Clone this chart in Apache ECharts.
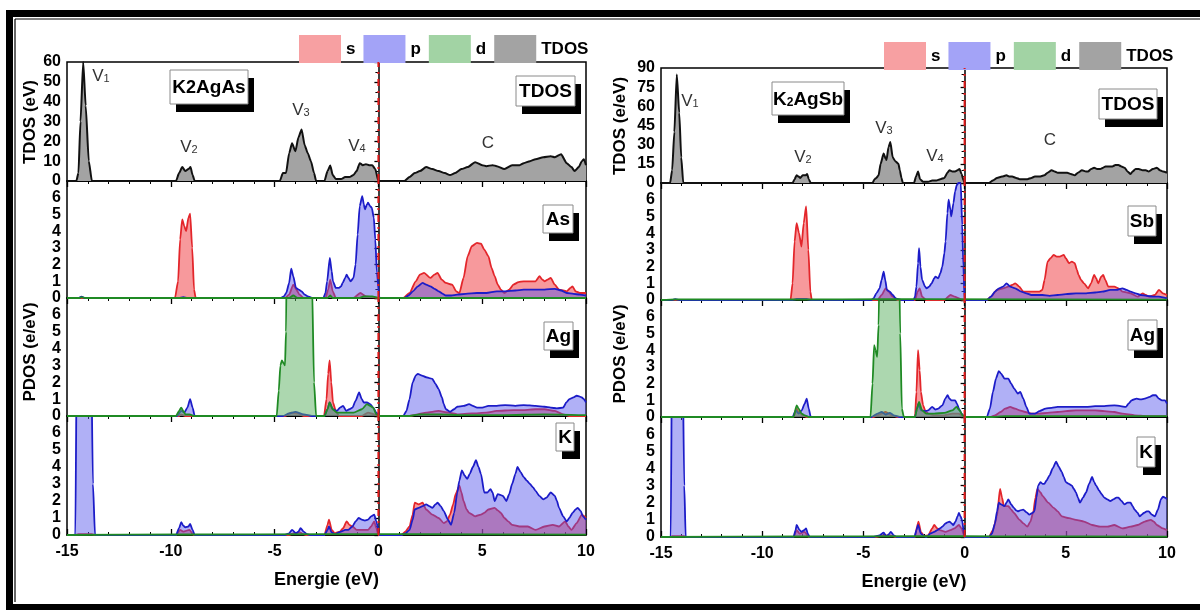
<!DOCTYPE html>
<html><head><meta charset="utf-8">
<script src="https://cdn.jsdelivr.net/npm/echarts@6/dist/echarts.min.js"></script>
<style>html,body{margin:0;padding:0;background:#fff}#c{width:1200px;height:610px}</style>
</head><body><div id="c"></div>
<script>
// ---------------- DATA (energy eV, density) ----------------
const xTicks = [-15, -10, -5, 0, 5, 10];
const legendNames = ['s', 'p', 'd', 'TDOS'];
const fermiLevel = 0;

// K2AgAs
const LA_tdos = [[-15,0],[-14.55,0],[-14.45,4],[-14.35,30],[-14.22,60],[-14.1,38],[-13.95,10],[-13.8,0],
 [-9.75,0],[-9.6,4],[-9.45,7],[-9.3,5],[-9.15,6],[-9.05,7],[-8.95,3],[-8.85,0],
 [-4.75,0],[-4.6,4],[-4.45,4],[-4.3,14],[-4.16,19],[-4.0,15],[-3.85,22],[-3.7,26],[-3.55,18],[-3.4,14],[-3.25,10],[-3.1,4],[-3.0,0],
 [-2.6,0],[-2.45,5],[-2.32,7.8],[-2.2,3],[-2.05,1],[-1.8,1],[-1.6,2],[-1.4,2],[-1.2,3],[-1.05,5],[-0.9,9],[-0.75,8],[-0.6,8.5],[-0.45,8],[-0.3,8],[-0.15,6],[0,0],
 [1.25,0],[1.5,2],[1.75,4],[2.0,5],[2.3,7],[2.6,6],[2.9,5],[3.2,4],[3.45,3],[3.7,4],[4.0,6],[4.3,7],[4.66,9.5],[5.0,8],[5.2,7.5],[5.5,8],[5.7,7.5],[6.07,6],[6.44,8],[6.8,8],[7.0,9],[7.3,10],[7.57,11],[7.94,12],[8.3,12.5],[8.5,12],[8.8,13.5],[9.07,9],[9.3,7],[9.45,5],[9.65,7],[9.8,10],[9.9,11],[10,8]];

const LA_s = [[-15,0],[-9.8,0],[-9.65,1],[-9.55,3.5],[-9.45,4.7],[-9.35,4.3],[-9.26,4.0],[-9.15,4.8],[-9.07,5.05],[-8.97,3],[-8.88,0.5],[-8.8,0],
 [-4.5,0],[-4.3,0.2],[-4.1,0.8],[-3.95,0.5],[-3.8,0.2],[-3.6,0],
 [-2.55,0],[-2.42,0.5],[-2.32,1.1],[-2.2,0.4],[-2.05,0],
 [-1.2,0],[-0.87,0.3],[-0.6,0.1],[0,0],
 [1.2,0],[1.5,0.3],[1.8,1.0],[2.0,1.4],[2.2,1.5],[2.5,1.2],[2.7,1.4],[2.85,1.5],[3.05,1.1],[3.25,0.9],[3.55,0.8],[3.75,0.4],[3.9,0.3],[4.1,1.2],[4.3,2.5],[4.5,3.1],[4.75,3.3],[4.94,3.25],[5.1,2.9],[5.3,2.5],[5.45,1.8],[5.6,1.3],[5.75,0.8],[5.9,0.5],[6.07,0.3],[6.3,0.5],[6.5,0.8],[6.75,0.95],[7.0,1.0],[7.3,1.0],[7.57,1.0],[7.76,1.3],[7.9,1.1],[8.0,1.0],[8.15,1.1],[8.3,1.2],[8.5,0.8],[8.7,0.5],[9.07,0.4],[9.25,0.6],[9.35,0.7],[9.5,0.4],[9.7,0.3],[10,0.3]];

const LA_p = [[-15,0],[-14.45,0],[-14.3,0.08],[-14.15,0],[-9.6,0],[-9.4,0.05],[-9.2,0],
 [-4.72,0],[-4.55,0.1],[-4.44,0.3],[-4.3,0.9],[-4.2,1.75],[-4.1,1.3],[-3.97,0.6],[-3.84,0.5],[-3.7,0.4],[-3.55,0.2],[-3.4,0.1],[-3.2,0],
 [-2.65,0],[-2.55,0.3],[-2.47,1.0],[-2.34,2.4],[-2.25,1.6],[-2.19,1.0],[-2.05,0.6],[-1.9,0.6],[-1.8,0.7],[-1.72,0.9],[-1.6,1.2],[-1.53,1.4],[-1.44,1.2],[-1.34,1.0],[-1.2,1.2],[-1.1,2.0],[-1.0,3.8],[-0.9,5.5],[-0.78,6.1],[-0.7,5.6],[-0.65,5.3],[-0.55,5.6],[-0.5,5.7],[-0.4,5.5],[-0.32,5.4],[-0.22,4.8],[-0.15,3.5],[-0.07,1.5],[0.05,0],
 [1.25,0],[1.45,0.15],[1.66,0.4],[1.9,0.7],[2.13,0.9],[2.3,0.8],[2.5,0.7],[2.7,0.55],[2.9,0.4],[3.1,0.25],[3.25,0.15],[3.5,0.15],[3.8,0.2],[4.2,0.25],[4.75,0.3],[5.2,0.3],[5.7,0.4],[6.1,0.4],[6.6,0.45],[7.0,0.5],[7.57,0.5],[8.0,0.5],[8.5,0.55],[8.8,0.45],[9.07,0.3],[9.4,0.25],[9.7,0.2],[10,0.15]];

const LA_d = [[-15,0],[-14.4,0],[-14.3,0.05],[-14.1,0],[-4.3,0],[-4.1,0.15],[-3.9,0],[-2.45,0],[-2.32,0.15],[-2.2,0],[-0.9,0],[-0.7,0.1],[-0.3,0.1],[0,0],[10,0]];

const LG_s = [[-15,0],[-9.6,0],[-9.5,0.1],[-9.3,0],[-4.5,0],[-4.2,0.2],[-3.9,0.15],[-3.6,0],
 [-2.62,0],[-2.5,1.0],[-2.42,2.5],[-2.35,3.3],[-2.27,2.0],[-2.19,0.8],[-2.05,0.3],[-1.9,0],
 [-0.8,0],[-0.5,0.2],[-0.2,0.1],[0,0],
 [1.5,0],[1.9,0.1],[2.3,0.2],[2.9,0.3],[3.4,0.2],[3.8,0.1],[4.5,0.15],[5.2,0.2],[5.7,0.3],[6.5,0.35],[7.0,0.35],[7.57,0.4],[8.0,0.4],[8.5,0.3],[8.9,0.1],[9.2,0],[10,0]];

const LG_p = [[-15,0],[-9.7,0],[-9.5,0.3],[-9.35,0.2],[-9.2,0.5],[-9.07,1.0],[-8.95,0.5],[-8.85,0],
 [-4.6,0],[-4.3,0.15],[-4.0,0.25],[-3.6,0.1],[-3.2,0],
 [-2.6,0],[-2.45,0.4],[-2.35,0.8],[-2.2,0.4],[-2.0,0.3],[-1.85,0.5],[-1.7,0.6],[-1.55,0.3],[-1.4,0.4],[-1.25,0.5],[-1.1,0.9],[-0.93,1.4],[-0.8,1.0],[-0.7,0.8],[-0.55,0.8],[-0.4,0.7],[-0.25,0.5],[-0.1,0.2],[0.05,0],
 [1.2,0],[1.35,0.3],[1.5,1.0],[1.65,2.0],[1.8,2.4],[1.9,2.5],[2.1,2.4],[2.3,2.3],[2.45,2.25],[2.6,2.2],[2.75,1.9],[2.9,1.6],[3.06,1.1],[3.15,0.7],[3.25,0.4],[3.45,0.25],[3.65,0.4],[3.8,0.55],[4.1,0.6],[4.37,0.7],[4.55,0.6],[4.75,0.5],[5.0,0.5],[5.3,0.6],[5.7,0.6],[6.1,0.65],[6.6,0.6],[7.0,0.65],[7.57,0.6],[8.0,0.55],[8.3,0.5],[8.6,0.45],[8.9,0.5],[9.05,0.8],[9.2,1.0],[9.4,1.1],[9.55,1.2],[9.7,1.15],[9.8,1.1],[9.9,1.0],[10,0.8]];

const LG_d = [[-15,0],[-9.75,0],[-9.6,0.3],[-9.5,0.5],[-9.4,0.3],[-9.3,0.1],[-9.1,0.1],[-8.9,0],
 [-4.9,0],[-4.8,1.5],[-4.72,3.0],[-4.65,3.3],[-4.55,3.1],[-4.5,3.0],[-4.45,5],[-4.4,12],[-3.3,12],[-3.2,8],[-3.1,2],[-3.0,0],
 [-2.6,0],[-2.45,0.4],[-2.35,0.8],[-2.2,0.4],[-2.0,0.2],[-1.6,0.2],[-1.2,0.2],[-0.8,0.4],[-0.55,0.7],[-0.4,0.6],[-0.25,0.5],[-0.1,0.1],[0.05,0],
 [1.5,0],[2.0,0.1],[3.0,0.1],[4.0,0.05],[6.0,0.05],[8.0,0.1],[10,0.05]];

const LK_s = [[-15,0],[-14.6,0],[-14.45,0.05],[-13.8,0.05],[-13.65,0],
 [-9.75,0],[-9.55,0.3],[-9.4,0.2],[-9.1,0.3],[-8.9,0],
 [-4.3,0],[-4.1,0.1],[-3.8,0.15],[-3.5,0],
 [-2.6,0],[-2.45,0.6],[-2.38,0.9],[-2.25,0.3],[-2.1,0.1],[-1.85,0.2],[-1.7,0.4],[-1.53,0.8],[-1.4,0.6],[-1.25,0.5],[-1.05,0.3],[-0.87,0.3],[-0.65,0.3],[-0.5,0.3],[-0.35,0.5],[-0.2,0.8],[-0.1,0.4],[0,0],
 [1.1,0],[1.3,0.2],[1.5,0.5],[1.65,1.2],[1.75,1.9],[1.94,1.8],[2.13,1.9],[2.3,1.5],[2.6,1.2],[2.9,1.0],[3.15,0.7],[3.3,0.8],[3.45,1.2],[3.6,1.8],[3.72,2.4],[3.9,2.9],[4.0,2.5],[4.1,2.0],[4.25,1.5],[4.37,1.3],[4.66,1.1],[4.94,1.2],[5.1,1.3],[5.3,1.5],[5.6,1.6],[5.75,1.45],[5.9,1.3],[6.07,1.0],[6.25,0.8],[6.44,0.6],[6.8,0.5],[7.2,0.5],[7.57,0.3],[8.0,0.5],[8.4,0.6],[8.7,0.5],[9.0,0.8],[9.15,0.5],[9.3,0.3],[9.55,0.7],[9.8,1.2],[10,1.0]];

const LK_p = [[-15,0],[-14.6,0],[-14.52,12],[-13.85,12],[-13.75,3],[-13.65,0],
 [-9.75,0],[-9.6,0.4],[-9.5,0.75],[-9.4,0.55],[-9.3,0.45],[-9.15,0.5],[-9.07,0.65],[-8.95,0.3],[-8.85,0],
 [-4.5,0],[-4.3,0.1],[-4.16,0.3],[-3.97,0.1],[-3.85,0.2],[-3.75,0.4],[-3.6,0.2],[-3.45,0.05],[-3.3,0],
 [-2.6,0],[-2.45,0.3],[-2.38,0.5],[-2.25,0.15],[-2.1,0.05],[-1.8,0.2],[-1.6,0.3],[-1.45,0.3],[-1.25,0.5],[-1.1,0.8],[-0.95,1.0],[-0.8,0.9],[-0.65,0.85],[-0.5,0.9],[-0.35,1.1],[-0.2,1.2],[-0.1,0.8],[0.05,0],
 [1.1,0],[1.3,0.1],[1.5,0.3],[1.65,0.9],[1.75,1.5],[1.94,1.6],[2.13,1.7],[2.3,1.8],[2.45,1.7],[2.6,1.6],[2.75,1.8],[2.85,1.9],[3.0,1.7],[3.15,1.4],[3.35,0.9],[3.5,0.6],[3.65,1.3],[3.8,2.5],[3.9,3.2],[4.02,3.8],[4.15,3.5],[4.28,3.3],[4.4,3.6],[4.55,4.0],[4.7,4.4],[4.82,4.0],[4.94,3.6],[5.1,2.5],[5.25,2.5],[5.4,2.7],[5.5,2.5],[5.6,2.0],[5.75,2.4],[5.9,2.35],[6.0,2.3],[6.16,2.0],[6.3,2.4],[6.44,3.0],[6.6,3.6],[6.7,4.0],[6.85,3.7],[7.0,3.4],[7.15,3.2],[7.3,3.0],[7.45,2.8],[7.57,2.6],[7.75,2.3],[7.94,2.1],[8.1,2.2],[8.3,2.5],[8.5,2.3],[8.6,2.0],[8.7,1.6],[8.9,1.1],[9.07,0.8],[9.2,1.0],[9.35,1.3],[9.5,1.5],[9.6,1.6],[9.75,1.4],[9.85,1.1],[10,0.9]];

const LK_d = [[-15,0],[-9.5,0.03],[-2.3,0.05],[2,0.05],[10,0.02]];

// K2AgSb
const RA_tdos = [[-15,0],[-14.55,0],[-14.45,10],[-14.34,40],[-14.22,85],[-14.1,55],[-14.0,20],[-13.9,0],
 [-8.5,0],[-8.4,3],[-8.3,6],[-8.2,5],[-8.12,4],[-8.0,6],[-7.85,6],[-7.78,7],[-7.7,3],[-7.6,0],
 [-4.55,0],[-4.45,3],[-4.36,4],[-4.25,6],[-4.15,15],[-4.0,23],[-3.9,19],[-3.86,18],[-3.76,28],[-3.67,32],[-3.55,20],[-3.42,17],[-3.27,15],[-3.2,10],[-3.12,4],[-3.05,0],
 [-2.5,0],[-2.4,5],[-2.3,9],[-2.2,3],[-2.05,1],[-1.8,1],[-1.6,2],[-1.4,2],[-1.2,3],[-1.0,4],[-0.85,8],[-0.75,10],[-0.6,9],[-0.47,9],[-0.35,10],[-0.25,11],[-0.15,7],[-0.05,2],[0,0],
 [1.2,0],[1.4,2],[1.6,4],[1.85,5],[2.07,6],[2.2,5],[2.35,5],[2.55,4],[2.72,3],[2.9,3],[3.1,3],[3.3,4],[3.47,5],[3.7,5],[3.94,6],[4.1,8],[4.3,10],[4.45,9],[4.6,8],[4.85,8],[5.07,8],[5.25,7],[5.44,6],[5.6,8],[5.8,10],[6.0,9],[6.1,9],[6.25,11],[6.4,12],[6.55,11],[6.7,11],[6.85,12],[6.96,13],[7.15,13],[7.3,13],[7.45,14],[7.6,14],[7.75,13],[7.9,12],[8.05,9],[8.2,7],[8.3,9],[8.45,11],[8.6,11],[8.8,10],[8.95,10],[9.1,9],[9.3,11],[9.5,12],[9.65,10],[9.8,9],[10,8]];

const RS_s = [[-15,0],[-8.6,0],[-8.5,1],[-8.4,3.5],[-8.3,4.6],[-8.18,4.0],[-8.06,3.2],[-7.95,4.6],[-7.83,5.6],[-7.72,3],[-7.62,0.5],[-7.55,0],
 [-4.3,0],[-4.1,0.3],[-3.9,0.7],[-3.75,0.5],[-3.55,0.2],[-3.3,0],
 [-2.45,0],[-2.32,0.5],[-2.22,0.7],[-2.1,0.2],[-1.9,0],
 [-1.0,0],[-0.7,0.3],[-0.5,0.2],[-0.2,0.05],[0,0],
 [1.1,0],[1.3,0.2],[1.6,0.6],[1.9,0.7],[2.16,0.8],[2.35,0.9],[2.5,1.0],[2.7,0.8],[2.9,0.5],[3.2,0.5],[3.47,0.5],[3.7,0.5],[3.84,0.6],[3.95,1.2],[4.1,2.3],[4.25,2.5],[4.4,2.7],[4.55,2.6],[4.7,2.6],[4.9,2.7],[5.0,2.5],[5.16,2.2],[5.3,2.3],[5.44,2.2],[5.55,1.8],[5.63,1.5],[5.75,1.2],[5.9,1.0],[6.1,0.7],[6.25,1.0],[6.4,1.5],[6.5,1.3],[6.6,1.0],[6.75,1.4],[6.85,1.5],[6.95,1.2],[7.1,0.8],[7.4,0.8],[7.6,0.7],[7.8,0.5],[8.2,0.4],[8.55,0.2],[8.8,0.4],[8.95,0.3],[9.1,0.2],[9.4,0.3],[9.6,0.6],[9.8,0.4],[10,0.3]];

const RS_p = [[-15,0],[-14.45,0],[-14.3,0.05],[-14.1,0],[-8.5,0],[-8.3,0.05],[-7.8,0.05],[-7.6,0],
 [-4.6,0],[-4.5,0.1],[-4.36,0.4],[-4.2,0.7],[-4.1,1.2],[-4.0,1.7],[-3.92,1.2],[-3.84,0.6],[-3.7,0.5],[-3.55,0.3],[-3.4,0.1],[-3.27,0.05],[-3.1,0],
 [-2.52,0],[-2.45,0.2],[-2.38,0.8],[-2.3,2.2],[-2.25,3.1],[-2.18,2.0],[-2.1,1.2],[-1.95,0.8],[-1.88,0.7],[-1.75,0.8],[-1.63,1.0],[-1.5,1.3],[-1.44,1.4],[-1.3,1.3],[-1.2,1.6],[-1.1,2.0],[-1.0,2.8],[-0.94,3.5],[-0.85,5.2],[-0.79,6.0],[-0.7,5.4],[-0.66,5.0],[-0.55,5.8],[-0.47,6.5],[-0.38,6.9],[-0.3,7.0],[-0.19,7.0],[-0.12,4.5],[-0.06,2.0],[0,0],
 [1.1,0],[1.3,0.2],[1.5,0.5],[1.7,0.7],[1.9,0.8],[2.07,1.0],[2.25,0.8],[2.5,0.7],[2.8,0.5],[3.05,0.4],[3.3,0.3],[3.6,0.3],[3.84,0.3],[4.2,0.25],[4.6,0.3],[5.0,0.35],[5.5,0.4],[6.0,0.4],[6.45,0.45],[6.8,0.5],[7.2,0.6],[7.5,0.6],[7.8,0.7],[8.0,0.6],[8.2,0.5],[8.45,0.4],[8.7,0.3],[9.0,0.25],[9.3,0.2],[9.6,0.2],[10,0.1]];

const RS_d = [[-15,0],[-14.3,0.04],[-8.2,0.03],[-3.9,0.05],[-2.3,0.05],[10,0.02]];

const RG_s = [[-15,0],[-8.45,0],[-8.3,0.5],[-8.2,0.3],[-8.0,0.1],[-7.8,0],
 [-4.5,0],[-4.2,0.15],[-3.9,0.3],[-3.6,0.1],[-3.3,0],
 [-2.45,0],[-2.38,1.5],[-2.3,4.0],[-2.22,2.8],[-2.16,1.5],[-2.05,0.7],[-1.95,0.4],[-1.8,0.2],[-1.5,0.1],[-1.0,0.1],[-0.6,0.2],[-0.3,0.2],[0,0],
 [1.3,0],[1.5,0.1],[1.78,0.3],[2.0,0.5],[2.25,0.6],[2.5,0.5],[2.72,0.4],[3.0,0.3],[3.3,0.2],[3.66,0.2],[4.1,0.25],[4.6,0.3],[5.0,0.35],[5.5,0.4],[6.0,0.4],[6.45,0.4],[6.9,0.35],[7.4,0.3],[7.8,0.2],[8.4,0.1],[9.0,0.05],[10,0.05]];

const RG_p = [[-15,0],[-8.5,0],[-8.34,0.4],[-8.2,0.2],[-8.05,0.4],[-7.9,0.8],[-7.8,1.1],[-7.7,0.5],[-7.6,0],
 [-4.6,0],[-4.3,0.2],[-4.1,0.3],[-3.9,0.15],[-3.7,0.25],[-3.5,0.1],[-3.2,0],
 [-2.45,0],[-2.35,0.5],[-2.28,0.8],[-2.15,0.4],[-1.95,0.35],[-1.8,0.4],[-1.6,0.6],[-1.45,0.45],[-1.3,0.5],[-1.1,0.7],[-0.95,1.1],[-0.84,1.3],[-0.75,1.1],[-0.66,1.0],[-0.55,1.0],[-0.47,1.0],[-0.38,0.8],[-0.28,0.5],[-0.15,0.2],[0,0],
 [1.1,0],[1.25,0.5],[1.4,1.5],[1.55,2.3],[1.69,2.75],[1.8,2.6],[1.97,2.3],[2.16,2.3],[2.3,2.0],[2.45,1.7],[2.63,1.4],[2.75,1.5],[2.9,1.1],[3.05,0.6],[3.2,0.2],[3.47,0.2],[3.7,0.35],[4.0,0.5],[4.3,0.55],[4.6,0.6],[5.0,0.6],[5.5,0.6],[6.0,0.6],[6.45,0.65],[6.9,0.65],[7.4,0.7],[7.7,0.65],[7.97,0.6],[8.1,0.8],[8.25,1.0],[8.5,1.1],[8.7,1.05],[8.9,1.1],[9.15,1.2],[9.3,1.3],[9.45,1.3],[9.6,1.1],[9.75,1.0],[9.9,1.0],[10,0.8]];

const RG_d = [[-15,0],[-8.45,0],[-8.3,0.7],[-8.2,0.5],[-8.05,0.2],[-7.9,0.1],[-7.7,0],
 [-4.65,0],[-4.55,2.0],[-4.47,4.3],[-4.4,4.0],[-4.32,3.6],[-4.25,5.5],[-4.17,12],[-3.27,12],[-3.18,5],[-3.1,0.5],[-3.0,0],
 [-2.45,0],[-2.35,0.5],[-2.25,0.9],[-2.1,0.4],[-1.9,0.2],[-1.5,0.2],[-1.0,0.25],[-0.6,0.4],[-0.4,0.6],[-0.25,0.4],[-0.1,0.1],[0,0],
 [1.3,0],[2.0,0.05],[3.0,0.05],[5.0,0.05],[8.0,0.05],[10,0.05]];

const RK_s = [[-15,0],[-14.55,0],[-14.45,0.05],[-13.85,0.05],[-13.75,0],
 [-8.45,0],[-8.3,0.4],[-8.15,0.2],[-7.9,0.3],[-7.7,0],
 [-4.4,0],[-4.0,0.1],[-3.65,0.1],[-3.4,0],
 [-2.45,0],[-2.35,0.6],[-2.28,0.9],[-2.16,0.3],[-2.0,0.05],[-1.8,0.1],[-1.6,0.5],[-1.5,0.7],[-1.35,0.5],[-1.22,0.4],[-0.94,0.3],[-0.7,0.4],[-0.5,0.5],[-0.28,0.7],[-0.15,0.5],[0,0],
 [1.2,0],[1.4,0.4],[1.6,1.2],[1.75,2.8],[1.85,2.3],[1.94,1.8],[2.16,1.8],[2.3,1.6],[2.44,1.4],[2.72,1.0],[2.9,0.8],[3.1,0.6],[3.25,0.9],[3.4,1.5],[3.5,2.3],[3.6,2.8],[3.75,2.6],[3.85,2.4],[4.13,2.0],[4.4,1.7],[4.6,1.5],[4.8,1.2],[5.16,1.1],[5.5,1.0],[5.9,0.9],[6.3,0.7],[6.7,0.6],[7.05,0.6],[7.4,0.7],[7.8,0.5],[8.2,0.6],[8.55,0.7],[8.9,0.9],[9.2,1.0],[9.35,0.9],[9.5,0.7],[9.8,0.5],[10,0.4]];

const RK_p = [[-15,0],[-14.52,0],[-14.45,12],[-13.95,12],[-13.85,3],[-13.78,0],
 [-8.45,0],[-8.35,0.4],[-8.3,0.7],[-8.15,0.4],[-8.06,0.3],[-7.93,0.4],[-7.83,0.5],[-7.75,0.2],[-7.65,0],
 [-4.5,0],[-4.2,0.1],[-4.0,0.25],[-3.86,0.05],[-3.75,0.15],[-3.65,0.3],[-3.5,0.1],[-3.37,0],
 [-2.48,0],[-2.38,0.4],[-2.3,0.7],[-2.16,0.2],[-2.0,0.05],[-1.88,0],[-1.7,0.2],[-1.5,0.3],[-1.35,0.4],[-1.22,0.5],[-1.1,0.6],[-0.94,0.8],[-0.85,0.85],[-0.75,0.9],[-0.65,0.8],[-0.56,0.7],[-0.45,0.9],[-0.35,1.2],[-0.28,1.4],[-0.2,1.2],[-0.13,1.0],[0,0],
 [1.2,0],[1.35,0.2],[1.5,0.8],[1.6,1.5],[1.69,2.0],[1.8,1.9],[1.97,1.8],[2.07,2.0],[2.16,2.2],[2.3,1.9],[2.44,1.7],[2.55,1.55],[2.63,1.5],[2.75,1.55],[2.9,1.6],[3.05,1.45],[3.2,1.3],[3.35,1.4],[3.45,1.5],[3.55,2.3],[3.63,3.0],[3.75,3.2],[3.85,3.1],[3.94,3.1],[4.05,3.3],[4.2,3.6],[4.35,4.0],[4.52,4.4],[4.65,4.1],[4.8,3.8],[4.9,3.5],[5.0,3.2],[5.15,3.1],[5.3,3.0],[5.4,2.8],[5.5,2.6],[5.6,2.3],[5.7,2.0],[5.85,2.3],[6.0,2.6],[6.15,3.1],[6.3,3.5],[6.4,3.2],[6.5,3.0],[6.65,2.7],[6.77,2.5],[6.9,2.3],[7.05,2.2],[7.2,2.1],[7.35,2.2],[7.5,2.3],[7.6,2.3],[7.75,2.1],[7.9,1.9],[8.05,2.0],[8.2,2.0],[8.3,1.8],[8.4,1.6],[8.55,1.4],[8.65,1.2],[8.75,1.3],[8.85,1.4],[9.0,1.5],[9.1,1.5],[9.25,1.3],[9.4,1.2],[9.55,1.6],[9.7,2.2],[9.8,2.35],[9.9,2.3],[10,2.2]];

const RK_d = [[-15,0],[-8.2,0.03],[-2.3,0.05],[2,0.04],[10,0.02]];

// ---------------- CHART ----------------
const FONT = "'Liberation Sans',Arial,sans-serif";
const C = {
  s: {line: '#e3262b', fill: 'rgba(240,70,75,0.55)', leg: '#f7a0a2'},
  p: {line: '#1c1cc8', fill: 'rgba(80,80,235,0.45)', leg: '#a3a3f7'},
  d: {line: '#1f8a24', fill: 'rgba(90,175,95,0.5)', leg: '#a2d3a4'},
  TDOS: {line: '#111', fill: '#a3a3a3', leg: '#a3a3a3'}
};

const LP = {left: 67, width: 519}, RP = {left: 661, width: 506};
const grids = [
  {...LP, top: 62, height: 119}, {...LP, top: 181, height: 117}, {...LP, top: 298, height: 118}, {...LP, top: 416, height: 119},
  {...RP, top: 68, height: 115}, {...RP, top: 183, height: 117}, {...RP, top: 300, height: 117}, {...RP, top: 417, height: 120}
];
const panels = [
  {tdos: LA_tdos, max: 60, interval: 10, minor: 2},
  {s: LA_s, p: LA_p, d: LA_d}, {s: LG_s, p: LG_p, d: LG_d}, {s: LK_s, p: LK_p, d: LK_d, last: true},
  {tdos: RA_tdos, max: 90, interval: 15, minor: 3},
  {s: RS_s, p: RS_p, d: RS_d}, {s: RG_s, p: RG_p, d: RG_d}, {s: RK_s, p: RK_p, d: RK_d, last: true}
];

const xAxes = [], yAxes = [], series = [];

panels.forEach((p, gi) => {
  xAxes.push({
    type: 'value', gridIndex: gi, min: -15, max: 10, interval: 5,
    axisLine: {lineStyle: {color: '#000', width: 1.5}},
    axisTick: {inside: !!p.last, length: 6, lineStyle: {color: '#000', width: 1.3}},
    minorTick: {show: true, splitNumber: 5, length: 3, lineStyle: {color: '#000', width: 1}},
    axisLabel: {show: !!p.last, color: '#000', fontFamily: FONT, fontWeight: 'bold', fontSize: 16, margin: 9,
      showMinLabel: true, showMaxLabel: true},
    splitLine: {show: false},
    name: p.last ? 'Energie (eV)' : '', nameLocation: 'middle', nameGap: 36,
    nameTextStyle: {color: '#000', fontFamily: FONT, fontWeight: 'bold', fontSize: 18}
  });
  const isT = !!p.tdos;
  const ymax = isT ? p.max : 7;
  yAxes.push({
    type: 'value', gridIndex: gi, min: 0, max: ymax, interval: isT ? p.interval : 1,
    axisLine: {show: true, lineStyle: {color: '#000', width: 1.5}},
    axisTick: {inside: false, length: 4, lineStyle: {color: '#000', width: 1.3}},
    minorTick: {show: true, splitNumber: isT ? p.minor : 2, length: 3, lineStyle: {color: '#000', width: 1}},
    axisLabel: {color: '#000', fontFamily: FONT, fontWeight: 'bold', fontSize: 16, margin: 6,
      showMinLabel: true, showMaxLabel: true, hideOverlap: false,
      formatter: v => (!isT && v === 7) ? '' : String(v)},
    splitLine: {show: false}
  });
  const base = {type: 'line', xAxisIndex: gi, yAxisIndex: gi, symbol: 'none', smooth: 0.2, smoothMonotone: 'x',
    animation: false, silent: true};
  if (isT) {
    series.push({...base, name: 'TDOS', data: p.tdos, lineStyle: {color: C.TDOS.line, width: 2},
      itemStyle: {color: C.TDOS.line}, areaStyle: {color: C.TDOS.fill, opacity: 1}, z: 3});
  } else {
    ['s', 'p', 'd'].forEach((k, i) => {
      series.push({...base, name: k, data: p[k], lineStyle: {color: C[k].line, width: 1.8},
        itemStyle: {color: C[k].line}, areaStyle: {color: C[k].fill, opacity: 1}, z: 3 + i});
    });
  }
  // Fermi level: dash-dot red vertical line at E = 0, positioned through the axis scale
  series.push({type: 'custom', name: 'EF', xAxisIndex: gi, yAxisIndex: gi, silent: true, animation: false, z: 10,
    data: [[fermiLevel, 0, ymax]], clip: false,
    renderItem: (params, api) => {
      const a = api.coord([api.value(0), api.value(1)]);
      const b = api.coord([api.value(0), api.value(2)]);
      return {type: 'line', shape: {x1: a[0], y1: a[1], x2: b[0], y2: b[1]},
        style: {stroke: '#e01818', lineWidth: 2, lineDash: [7, 5, 2, 5], fill: null}};
    }});
});

const legendData = legendNames.map(n => ({name: n, icon: 'rect', itemStyle: {color: C[n].leg, borderWidth: 0}}));
const legendBase = {orient: 'horizontal', itemWidth: 42, itemHeight: 28, itemGap: 8, selectedMode: false,
  data: legendData, textStyle: {color: '#000', fontFamily: FONT, fontWeight: 'bold', fontSize: 17}};

// ---------------- Decorations ----------------
const G = [];
G.push({type: 'rect', shape: {x: 6, y: 10, width: 1194, height: 7}, style: {fill: '#000'}, silent: true});
G.push({type: 'rect', shape: {x: 6, y: 10, width: 7, height: 600}, style: {fill: '#000'}, silent: true});
G.push({type: 'rect', shape: {x: 6, y: 604, width: 1194, height: 6}, style: {fill: '#000'}, silent: true});
G.push({type: 'line', shape: {x1: 15, y1: 19, x2: 1200, y2: 19}, style: {stroke: '#000', lineWidth: 1.2}, silent: true});
G.push({type: 'line', shape: {x1: 15, y1: 19, x2: 15, y2: 602}, style: {stroke: '#000', lineWidth: 1.2}, silent: true});

function vtext(x, y, t) {
  G.push({type: 'text', x, y, rotation: Math.PI / 2, silent: true,
    style: {text: t, align: 'center', verticalAlign: 'middle', fill: '#000', font: `bold 17px ${FONT}`}});
}
vtext(30, 122, 'TDOS (eV)');
vtext(30, 352, 'PDOS (e/eV)');
vtext(620, 126, 'TDOS (e/eV)');
vtext(620, 354, 'PDOS (e/eV)');

function tbox(x, y, w, h, text, rich, fs) {
  G.push({type: 'rect', z: 50, silent: true, shape: {x: x + 6, y: y + 8, width: w, height: h}, style: {fill: '#000'}});
  G.push({type: 'rect', z: 51, silent: true, shape: {x, y, width: w, height: h}, style: {fill: '#fff', stroke: '#8a8a8a', lineWidth: 1}});
  G.push({type: 'text', z: 52, silent: true, x: x + w / 2, y: y + h / 2 + 1,
    style: {text, rich: rich || {}, align: 'center', verticalAlign: 'middle', fill: '#000',
      fontFamily: FONT, fontWeight: 'bold', fontSize: fs || 19}});
}
const richBig = {a: {fontFamily: FONT, fontWeight: 'bold', fontSize: 19, fill: '#000'},
  b: {fontFamily: FONT, fontWeight: 'bold', fontSize: 18, lineHeight: 12, verticalAlign: 'bottom', fill: '#000'}};
const richSmall = {a: {fontFamily: FONT, fontWeight: 'bold', fontSize: 19, fill: '#000'},
  b: {fontFamily: FONT, fontWeight: 'bold', fontSize: 12, lineHeight: 10, verticalAlign: 'bottom', fill: '#000'}};
tbox(170, 70, 78, 34, '{a|K}{b|2}{a|AgAs}', richBig);
tbox(516, 76, 59, 30, 'TDOS', null, 19);
tbox(543, 205, 30, 28, 'As', null, 19);
tbox(544, 322, 29, 28, 'Ag', null, 19);
tbox(556, 423, 18, 28, 'K', null, 19);

tbox(772, 82, 72, 33, '{a|K}{b|2}{a|AgSb}', richSmall);
tbox(1099, 89, 58, 30, 'TDOS', null, 19);
tbox(1128, 206, 28, 30, 'Sb', null, 19);
tbox(1128, 320, 29, 30, 'Ag', null, 19);
tbox(1137, 437, 18, 30, 'K', null, 19);

function vlab(x, y, main, sub) {
  G.push({type: 'text', x, y, silent: true, z: 40,
    style: {text: sub ? `{m|${main}}{s|${sub}}` : `{m|${main}}`, align: 'center', verticalAlign: 'middle',
      rich: {m: {fontFamily: FONT, fontSize: 17, fill: '#333'},
             s: {fontFamily: FONT, fontSize: 11, fill: '#333', lineHeight: 10, verticalAlign: 'bottom'}}}});
}
vlab(101, 76, 'V', '1'); vlab(189, 147, 'V', '2'); vlab(301, 110, 'V', '3'); vlab(357, 146, 'V', '4'); vlab(488, 143, 'C');
vlab(690, 101, 'V', '1'); vlab(803, 157, 'V', '2'); vlab(884, 128, 'V', '3'); vlab(935, 156, 'V', '4'); vlab(1050, 140, 'C');

const chart = echarts.init(document.getElementById('c'), null, {renderer: 'canvas'});
chart.setOption({
  animation: false,
  backgroundColor: '#fff',
  grid: grids.map(g => ({...g, show: true, borderColor: '#000', borderWidth: 1.5, backgroundColor: 'transparent', containLabel: false})),
  xAxis: xAxes, yAxis: yAxes, series,
  legend: [{...legendBase, left: 294, top: 30}, {...legendBase, left: 879, top: 37}],
  graphic: {elements: G}
});
</script>
</body></html>
